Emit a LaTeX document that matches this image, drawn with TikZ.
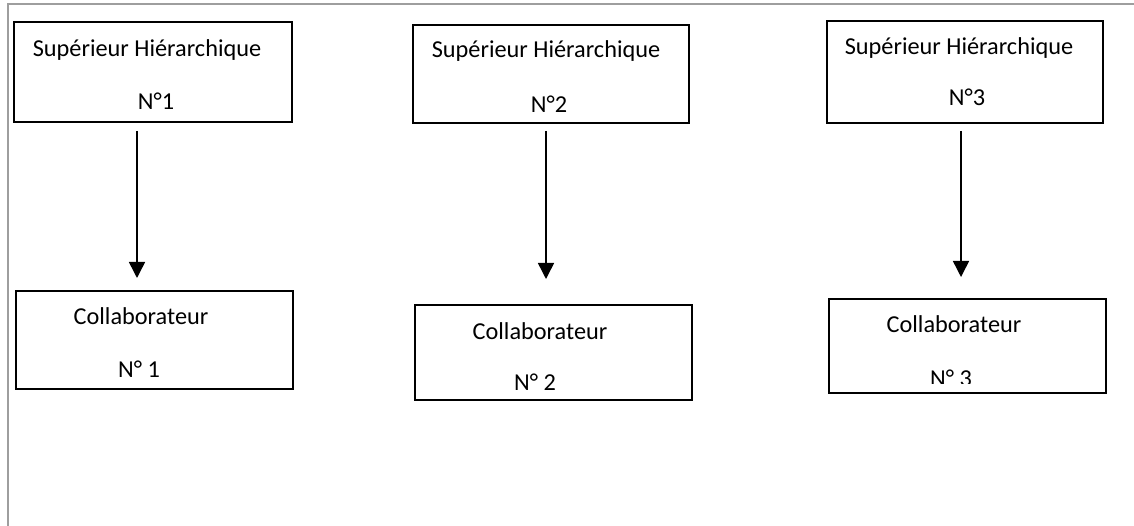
\documentclass[tikz,border=0pt]{standalone}
\usepackage{fontspec}
\setmainfont{Carlito}
\usetikzlibrary{arrows.meta}
\begin{document}
\begin{tikzpicture}[x=1pt,y=-1pt,
  frame/.style={draw=black!38, line width=1.5pt},
  box/.style={draw=black, line width=2pt, rectangle, inner sep=0pt},
  lbl/.style={anchor=base, inner sep=0pt, font=\fontsize{24.3}{29}\selectfont},
  arr/.style={draw=black, line width=1.5pt, -{Triangle[width=16pt,length=16pt]}}]
  \useasboundingbox (0,0) rectangle (1134,526);
  % page frame (top and left edges)
  \draw[frame] (8,526) -- (8,4) -- (1134,4);

  % boxes
  \node[box, minimum width=278pt, minimum height=100pt] (h1) at (153,72) {};
  \node[box, minimum width=277pt, minimum height=98pt]  (c1) at (154.5,340) {};
  \node[box, minimum width=276pt, minimum height=98pt]  (h2) at (551,74) {};
  \node[box, minimum width=277pt, minimum height=95pt]  (c2) at (553.5,352.5) {};
  \node[box, minimum width=276pt, minimum height=102pt] (h3) at (965,72) {};
  \node[box, minimum width=277pt, minimum height=94pt]  (c3) at (967.5,346) {};

  % labels
  \node[lbl] (h1a) at (147,57)  {Supérieur Hiérarchique};
  \node[lbl] (h1b) at (156,110) {N°1};
  \node[lbl] (h2a) at (546,58)  {Supérieur Hiérarchique};
  \node[lbl] (h2b) at (549,113) {N°2};
  \node[lbl] (h3a) at (959,55)  {Supérieur Hiérarchique};
  \node[lbl] (h3b) at (967,106) {N°3};
  \node[lbl] (c1a) at (141,324) {Collaborateur};
  \node[lbl] (c1b) at (139,377) {N° 1};
  \node[lbl] (c2a) at (540,339) {Collaborateur};
  \node[lbl] (c2b) at (535,390) {N° 2};
  \node[lbl] (c3a) at (954,332) {Collaborateur};
  % last label is cut off by the text area of its box
  \begin{scope}
    \clip (830,360) rectangle (1105,383);
    \node[lbl] (c3b) at (951,386) {N° 3};
  \end{scope}

  % arrows
  \draw[arr, shorten <=8pt, shorten >=12pt] ([xshift=-16pt]h1.south) -- ([xshift=-16pt]h1.south |- c1.north);
  \draw[arr, shorten <=7pt, shorten >=25pt] ([xshift=-5pt]h2.south) -- ([xshift=-5pt]h2.south |- c2.north);
  \draw[arr, shorten <=7pt, shorten >=21pt] ([xshift=-4pt]h3.south) -- ([xshift=-4pt]h3.south |- c3.north);
\end{tikzpicture}
\end{document}
